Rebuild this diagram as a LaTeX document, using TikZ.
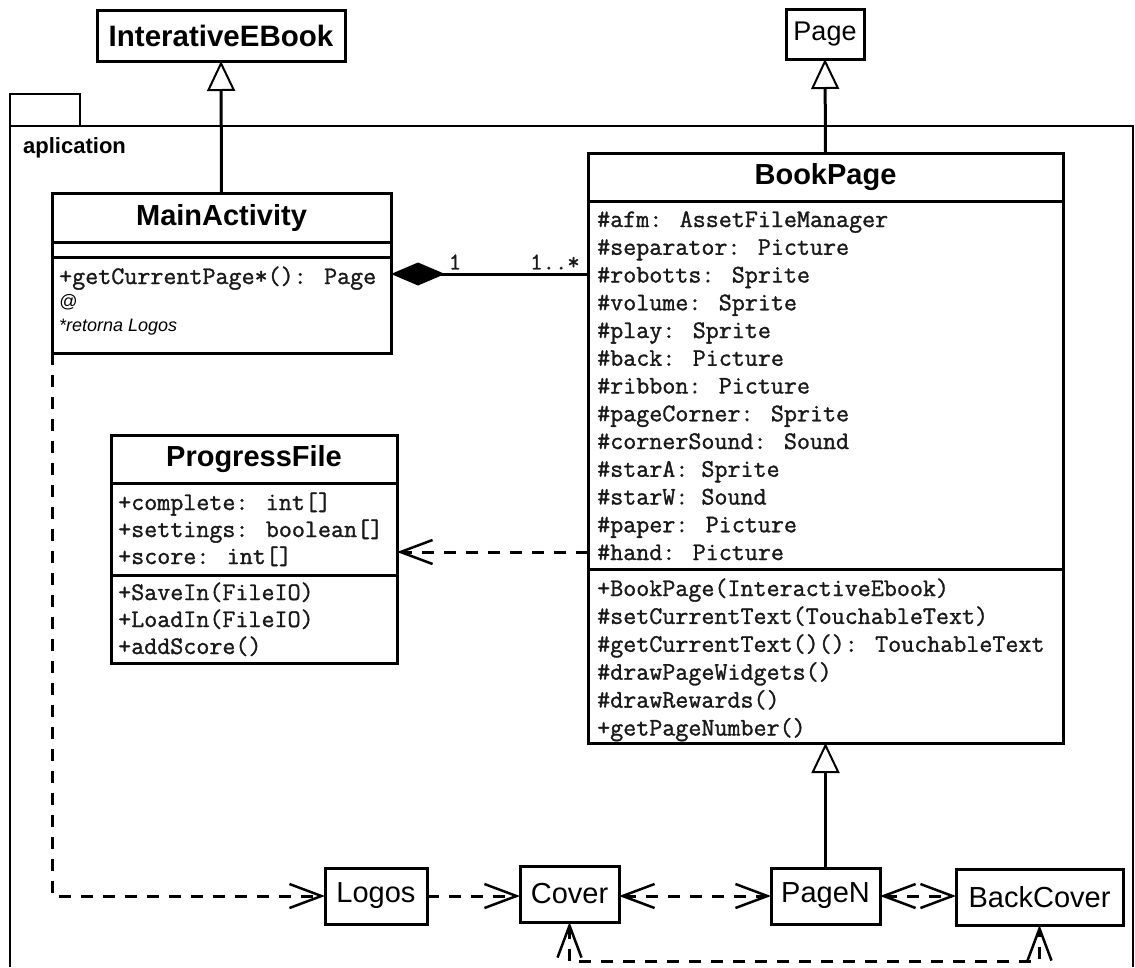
\documentclass[tikz,border=0pt]{standalone}
\usepackage{fontspec}
\setmainfont{Liberation Sans}
\newfontfamily\memberfont[FakeBold=1.2]{Latin Modern Mono}
\usetikzlibrary{arrows.meta}

\begin{document}
\begin{tikzpicture}[x=1pt,y=-1pt,
  box/.style={draw, line width=3pt, rectangle, inner sep=0pt, outer sep=0pt},
  title/.style={font=\fontsize{29}{32}\selectfont\bfseries},
  plainname/.style={font=\fontsize{29}{33}\selectfont},
  member/.style={anchor=base west, inner sep=0pt, text=black!90, font=\fontsize{25.3}{28}\selectfont\memberfont},
  note/.style={anchor=base west, inner sep=0pt, font=\fontsize{18}{21}\selectfont\itshape},
  mult/.style={inner sep=0pt, text=black!90, font=\fontsize{24}{27}\selectfont\memberfont},
  gen/.style={line width=3pt, -{Triangle[open, length=30pt, width=28pt, line width=2pt]}},
  comp/.style={line width=3pt, {Diamond[length=54pt, width=23pt]}-},
  barb/.tip={Straight Barb[length=32pt, width=24pt, line width=2.5pt]},
  dep/.style={line width=3pt, dash pattern=on 12pt off 10pt, -barb},
  depb/.style={line width=3pt, dash pattern=on 12pt off 10pt, barb-barb},
]
\fill[white] (0,0) rectangle (1135,967);
\useasboundingbox (0,0) rectangle (1135,967);

% package frame with its tab
\draw[line width=2pt] (10,967) -- (10,94) -- (80,94) -- (80,126);
\draw[line width=2pt] (10,126) -- (1133,126) -- (1133,967);
\node[anchor=base west, inner sep=0pt, font=\fontsize{22}{26}\selectfont\bfseries] (pkg) at (23,153) {aplication};

% outside classes
\node[box, font=\fontsize{29.5}{33}\selectfont\bfseries, minimum width=248pt, minimum height=51pt] (ieb) at (221,35.5) {InterativeEBook};
\node[box, font=\fontsize{27}{30}\selectfont, minimum width=78pt, minimum height=50pt] (page) at (825,34) {Page};

% MainActivity
\node[box, minimum width=339pt, minimum height=160pt] (ma) at (221.5,273) {};
\node[title] (mat) at (221.5,217.5) {MainActivity};
\draw[line width=3pt] (ma.west |- 0,242) -- (ma.east |- 0,242);
\draw[line width=3pt] (ma.west |- 0,257) -- (ma.east |- 0,257);
\node[member] (mam) at (59,284) {+getCurrentPage*(): Page};
\node[note] (man1) at (59,307) {@};
\node[note] (man2) at (59,331) {*retorna Logos};

% BookPage
\node[box, minimum width=475pt, minimum height=590pt] (bp) at (825.5,448) {};
\node[title] (bpt) at (825.5,177) {BookPage};
\draw[line width=3pt] (bp.west |- 0,201) -- (bp.east |- 0,201);
\draw[line width=3pt] (bp.west |- 0,569) -- (bp.east |- 0,569);
\foreach \t [count=\i from 0] in {%
  {\#afm: AssetFileManager},{\#separator: Picture},{\#robotts: Sprite},
  {\#volume: Sprite},{\#play: Sprite},{\#back: Picture},{\#ribbon: Picture},
  {\#pageCorner: Sprite},{\#cornerSound: Sound},{\#starA: Sprite},
  {\#starW: Sound},{\#paper: Picture},{\#hand: Picture}}
  \node[member] (bpa\i) at (597,{227+27.75*\i}) {\t};
\foreach \t [count=\i from 0] in {%
  {+BookPage(InteractiveEbook)},{\#setCurrentText(TouchableText)},
  {\#getCurrentText()(): TouchableText},{\#drawPageWidgets()},
  {\#drawRewards()},{+getPageNumber()}}
  \node[member] (bpm\i) at (597,{596+27.9*\i}) {\t};

% ProgressFile
\node[box, minimum width=286pt, minimum height=228pt] (pf) at (254,549) {};
\node[title] (pft) at (254,459) {ProgressFile};
\draw[line width=3pt] (pf.west |- 0,483) -- (pf.east |- 0,483);
\draw[line width=3pt] (pf.west |- 0,575) -- (pf.east |- 0,575);
\foreach \t [count=\i from 0] in {{+complete: int[]},{+settings: boolean[]},{+score: int[]}}
  \node[member] (pfa\i) at (118,{510+27*\i}) {\t};
\foreach \t [count=\i from 0] in {{+SaveIn(FileIO)},{+LoadIn(FileIO)},{+addScore()}}
  \node[member] (pfm\i) at (118,{600+27*\i}) {\t};

% page classes along the bottom
\node[box, plainname, minimum width=102pt, minimum height=56pt] (logos) at (376,896) {Logos};
\node[box, plainname, minimum width=99pt, minimum height=56pt] (cover) at (569.5,894) {Cover};
\node[box, plainname, minimum width=109pt, minimum height=56pt] (pagen) at (825.5,896) {PageN};
\node[box, plainname, minimum width=167pt, minimum height=56pt] (back) at (1039.5,897) {BackCover};

% relations
\draw[gen] (ma.north) -- (ieb.south);
\draw[gen] (bp.north) -- (page.south);
\draw[gen] (pagen.north) -- (bp.south);

\coordinate (cj) at (0,274);
\draw[comp] (ma.east |- cj) -- (bp.west |- cj);
\node[mult] (m1) at (455,262) {1};
\node[mult] (m2) at (555,262) {1..*};

\coordinate (dj) at (0,552);
\draw[dep] (bp.west |- dj) -- (pf.east |- dj);

\draw[dep] (ma.south west) |- (logos.west);
\draw[dep] (logos.east) -- (cover.west |- logos.east);
\draw[depb] (cover.east |- pagen.west) -- (pagen.west);
\draw[depb] (pagen.east) -- (back.west |- pagen.east);
\draw[depb] (cover.south) -- ++(0,39) -| (back.south);
\end{tikzpicture}
\end{document}
